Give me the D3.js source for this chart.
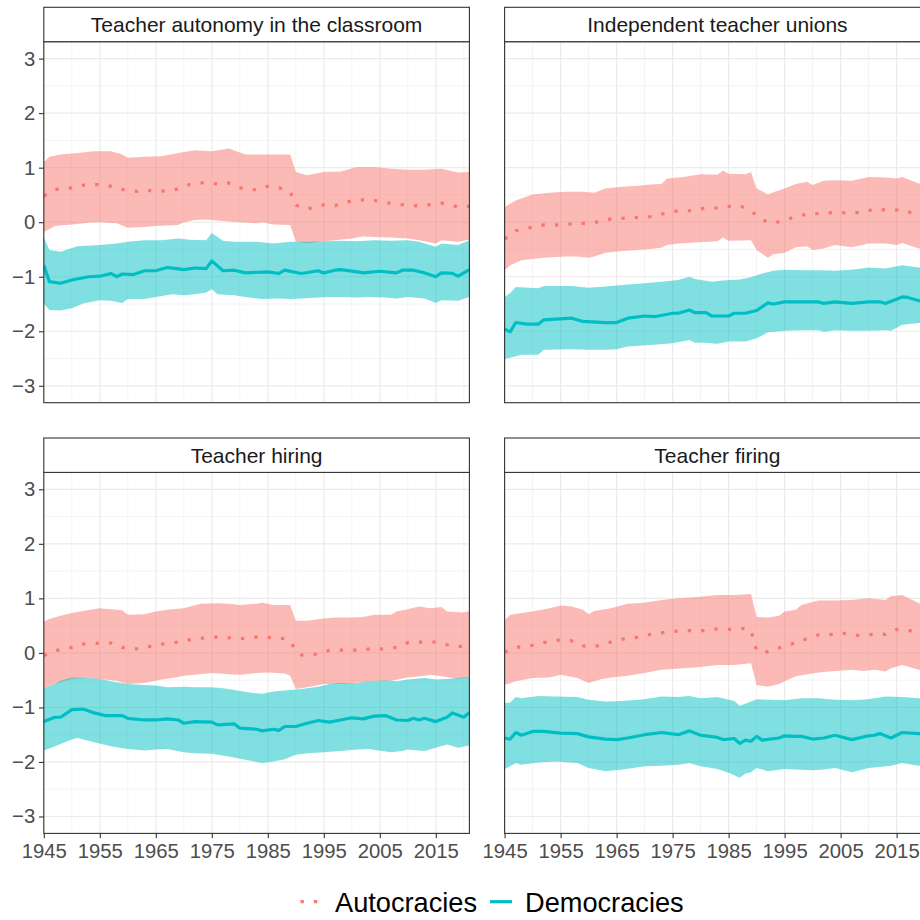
<!DOCTYPE html>
<html><head><meta charset="utf-8">
<script src="https://cdn.jsdelivr.net/npm/d3@7"></script>
<style>
body{margin:0;background:#fff}
svg{display:block}
text{font-family:"Liberation Sans",Arial,Helvetica,sans-serif}
</style>
</head><body>
<svg id="chart" width="920" height="920"></svg>
<script>
// ---------- DATA (year, value) ----------
const panelTitles = ["Teacher autonomy in the classroom","Independent teacher unions","Teacher hiring","Teacher firing"];
const seriesNames = ["Autocracies","Democracies"];
const seriesColors = ["#F8766D","#00BFC4"];
const xTicks = [1945,1955,1965,1975,1985,1995,2005,2015];
const xMinorTicks = [1950,1960,1970,1980,1990,2000,2010,2020];
const yTicks = [-3,-2,-1,0,1,2,3];
const yMinorTicks = [-2.5,-1.5,-0.5,0.5,1.5,2.5];

// Panel 1: Teacher autonomy in the classroom
const autonomyAutHi = [[1945,1.10],[1946,1.20],[1948,1.24],[1951,1.27],[1954,1.30],[1957,1.30],[1959,1.24],[1960,1.18],[1963,1.20],[1966,1.21],[1969,1.27],[1972,1.32],[1975,1.30],[1978,1.35],[1981,1.24],[1984,1.24],[1987,1.24],[1989,1.24],[1990,0.92],[1992,0.86],[1995,0.92],[1998,0.93],[2001,1.01],[2004,1.01],[2007,0.98],[2010,0.96],[2013,0.96],[2016,0.98],[2019,0.91],[2021,0.92]];
const autonomyAutMean = [[1945,0.48],[1947,0.60],[1950,0.63],[1952,0.68],[1955,0.69],[1957,0.66],[1959,0.60],[1962,0.56],[1964,0.58],[1967,0.57],[1969,0.61],[1971,0.69],[1974,0.73],[1976,0.70],[1978,0.72],[1980,0.63],[1983,0.59],[1985,0.66],[1987,0.63],[1989,0.56],[1990,0.31],[1992,0.24],[1995,0.32],[1997,0.30],[1999,0.37],[2002,0.41],[2004,0.40],[2006,0.36],[2009,0.32],[2011,0.30],[2014,0.32],[2016,0.35],[2019,0.28],[2021,0.29]];
const autonomyAutLo = [[1945,-0.18],[1947,-0.07],[1950,-0.04],[1953,-0.01],[1955,0.0],[1958,-0.02],[1960,-0.10],[1963,-0.09],[1965,-0.07],[1969,-0.05],[1970,0.0],[1972,0.04],[1974,0.05],[1977,0.02],[1980,0.0],[1983,-0.02],[1984,0.0],[1986,-0.04],[1989,-0.05],[1990,-0.36],[1992,-0.39],[1994,-0.36],[1997,-0.33],[2000,-0.30],[2002,-0.26],[2004,-0.27],[2007,-0.28],[2010,-0.30],[2012,-0.33],[2015,-0.39],[2016,-0.33],[2019,-0.36],[2021,-0.32]];
const autonomyDemHi = [[1945,-0.27],[1946,-0.51],[1948,-0.54],[1951,-0.44],[1955,-0.42],[1958,-0.39],[1960,-0.36],[1963,-0.33],[1966,-0.33],[1969,-0.30],[1971,-0.32],[1974,-0.33],[1975,-0.20],[1977,-0.34],[1979,-0.36],[1983,-0.36],[1986,-0.39],[1989,-0.36],[1992,-0.36],[1995,-0.35],[1998,-0.34],[2001,-0.35],[2004,-0.33],[2007,-0.34],[2010,-0.33],[2012,-0.36],[2015,-0.45],[2016,-0.39],[2019,-0.42],[2021,-0.33]];
const autonomyDemMean = [[1945,-0.79],[1946,-1.09],[1948,-1.12],[1950,-1.06],[1953,-1.00],[1955,-0.99],[1957,-0.94],[1958,-1.00],[1959,-0.95],[1961,-0.96],[1963,-0.89],[1965,-0.89],[1967,-0.83],[1970,-0.87],[1972,-0.84],[1974,-0.85],[1975,-0.71],[1977,-0.89],[1979,-0.88],[1981,-0.93],[1985,-0.91],[1987,-0.94],[1988,-0.88],[1991,-0.94],[1994,-0.89],[1995,-0.93],[1997,-0.88],[1998,-0.87],[2001,-0.91],[2002,-0.93],[2005,-0.90],[2008,-0.93],[2009,-0.88],[2011,-0.88],[2013,-0.93],[2015,-1.00],[2016,-0.93],[2018,-0.94],[2019,-0.99],[2021,-0.87]];
const autonomyDemLo = [[1945,-1.49],[1946,-1.61],[1948,-1.62],[1950,-1.58],[1952,-1.49],[1955,-1.43],[1957,-1.44],[1959,-1.48],[1960,-1.41],[1963,-1.41],[1965,-1.37],[1968,-1.32],[1970,-1.34],[1972,-1.32],[1974,-1.29],[1975,-1.23],[1976,-1.32],[1979,-1.34],[1981,-1.37],[1984,-1.41],[1987,-1.40],[1989,-1.41],[1991,-1.40],[1994,-1.38],[1996,-1.37],[1998,-1.37],[2001,-1.38],[2003,-1.37],[2006,-1.38],[2008,-1.40],[2010,-1.37],[2013,-1.40],[2015,-1.48],[2016,-1.43],[2019,-1.44],[2021,-1.37]];

// Panel 2: Independent teacher unions
const unionsAutHi = [[1945,0.28],[1947,0.40],[1950,0.51],[1953,0.54],[1956,0.56],[1959,0.56],[1961,0.54],[1963,0.62],[1966,0.65],[1969,0.67],[1971,0.69],[1973,0.70],[1974,0.80],[1977,0.83],[1980,0.88],[1983,0.87],[1984,0.95],[1985,0.89],[1988,0.88],[1989,0.92],[1990,0.62],[1992,0.51],[1993,0.55],[1995,0.62],[1997,0.70],[1999,0.74],[2000,0.68],[2002,0.76],[2004,0.77],[2007,0.76],[2010,0.83],[2013,0.82],[2015,0.80],[2016,0.83],[2019,0.71],[2021,0.68]];
const unionsAutMean = [[1945,-0.31],[1947,-0.16],[1950,-0.09],[1952,-0.05],[1955,-0.05],[1957,-0.03],[1959,-0.02],[1962,0.01],[1964,0.06],[1966,0.07],[1969,0.09],[1971,0.10],[1974,0.17],[1976,0.21],[1978,0.21],[1981,0.26],[1983,0.26],[1985,0.29],[1987,0.30],[1989,0.21],[1991,0.04],[1993,-0.02],[1995,0.04],[1997,0.10],[1999,0.15],[2002,0.16],[2004,0.18],[2006,0.17],[2009,0.18],[2011,0.24],[2014,0.22],[2016,0.23],[2018,0.16],[2021,0.14]];
const unionsAutLo = [[1945,-0.88],[1946,-0.79],[1948,-0.70],[1952,-0.65],[1956,-0.63],[1958,-0.63],[1960,-0.65],[1961,-0.63],[1963,-0.56],[1966,-0.53],[1970,-0.50],[1973,-0.47],[1974,-0.42],[1976,-0.39],[1979,-0.37],[1983,-0.35],[1984,-0.28],[1985,-0.34],[1989,-0.33],[1990,-0.51],[1992,-0.65],[1993,-0.59],[1995,-0.56],[1997,-0.46],[1999,-0.44],[2000,-0.51],[2002,-0.48],[2004,-0.42],[2007,-0.46],[2010,-0.39],[2013,-0.39],[2015,-0.42],[2016,-0.38],[2019,-0.48],[2021,-0.50]];
const unionsDemHi = [[1945,-1.37],[1946,-1.30],[1947,-1.19],[1951,-1.21],[1952,-1.17],[1957,-1.17],[1960,-1.20],[1963,-1.18],[1966,-1.15],[1970,-1.12],[1973,-1.09],[1976,-1.06],[1978,-1.00],[1979,-1.04],[1982,-1.09],[1984,-1.07],[1987,-1.05],[1989,-1.01],[1991,-0.94],[1993,-0.89],[1995,-0.87],[1998,-0.88],[2001,-0.88],[2004,-0.89],[2007,-0.87],[2010,-0.83],[2013,-0.85],[2016,-0.79],[2019,-0.83],[2021,-0.84]];
const unionsDemMean = [[1945,-1.96],[1946,-2.01],[1947,-1.84],[1949,-1.87],[1951,-1.87],[1952,-1.79],[1957,-1.76],[1959,-1.82],[1963,-1.84],[1965,-1.84],[1967,-1.76],[1970,-1.72],[1972,-1.73],[1975,-1.67],[1976,-1.67],[1978,-1.61],[1979,-1.66],[1981,-1.66],[1982,-1.72],[1985,-1.72],[1986,-1.67],[1988,-1.67],[1990,-1.62],[1992,-1.48],[1993,-1.50],[1995,-1.46],[1998,-1.46],[2001,-1.46],[2002,-1.49],[2004,-1.46],[2007,-1.49],[2010,-1.46],[2012,-1.46],[2013,-1.49],[2016,-1.37],[2017,-1.38],[2019,-1.44],[2021,-1.45]];
const unionsDemLo = [[1945,-2.51],[1947,-2.46],[1948,-2.43],[1951,-2.43],[1952,-2.34],[1957,-2.33],[1960,-2.34],[1963,-2.34],[1965,-2.33],[1967,-2.28],[1971,-2.25],[1975,-2.22],[1978,-2.16],[1979,-2.21],[1981,-2.21],[1983,-2.23],[1985,-2.19],[1988,-2.19],[1990,-2.13],[1992,-2.02],[1995,-1.99],[1998,-1.98],[2001,-1.98],[2002,-2.01],[2004,-1.98],[2007,-1.99],[2010,-1.99],[2013,-1.98],[2014,-1.99],[2016,-1.88],[2019,-1.85],[2021,-1.87]];

// Panel 3: Teacher hiring
const hiringAutHi = [[1945,0.57],[1946,0.62],[1948,0.68],[1950,0.73],[1952,0.77],[1955,0.82],[1957,0.80],[1959,0.78],[1960,0.70],[1963,0.71],[1965,0.76],[1967,0.79],[1970,0.82],[1973,0.90],[1976,0.91],[1978,0.90],[1980,0.88],[1983,0.90],[1984,0.92],[1986,0.88],[1989,0.88],[1990,0.59],[1992,0.59],[1995,0.63],[1997,0.65],[2000,0.65],[2002,0.66],[2004,0.70],[2007,0.70],[2008,0.76],[2010,0.80],[2012,0.85],[2014,0.82],[2016,0.84],[2017,0.76],[2020,0.74],[2021,0.77]];
const hiringAutMean = [[1945,-0.05],[1947,0.04],[1950,0.10],[1952,0.16],[1955,0.18],[1957,0.18],[1959,0.10],[1962,0.07],[1964,0.12],[1966,0.16],[1969,0.20],[1971,0.24],[1974,0.28],[1976,0.29],[1979,0.27],[1981,0.26],[1983,0.29],[1986,0.28],[1988,0.26],[1989,0.22],[1990,0.04],[1991,-0.04],[1994,-0.02],[1996,0.05],[1998,0.05],[2001,0.05],[2003,0.07],[2005,0.07],[2008,0.10],[2010,0.19],[2013,0.20],[2015,0.20],[2017,0.15],[2019,0.12],[2021,0.12]];
const hiringAutLo = [[1945,-0.65],[1947,-0.57],[1950,-0.48],[1953,-0.46],[1955,-0.48],[1958,-0.51],[1960,-0.57],[1963,-0.55],[1966,-0.49],[1969,-0.44],[1970,-0.42],[1972,-0.40],[1975,-0.37],[1978,-0.39],[1980,-0.40],[1983,-0.37],[1985,-0.36],[1988,-0.38],[1989,-0.42],[1990,-0.66],[1992,-0.63],[1995,-0.57],[1998,-0.57],[2002,-0.54],[2004,-0.51],[2007,-0.51],[2010,-0.45],[2013,-0.42],[2014,-0.40],[2016,-0.43],[2019,-0.48],[2021,-0.45]];
const hiringDemHi = [[1945,-0.65],[1947,-0.57],[1948,-0.51],[1950,-0.45],[1953,-0.46],[1955,-0.48],[1957,-0.52],[1960,-0.57],[1963,-0.59],[1965,-0.60],[1967,-0.63],[1970,-0.62],[1972,-0.63],[1975,-0.63],[1977,-0.65],[1979,-0.68],[1982,-0.73],[1984,-0.75],[1986,-0.71],[1989,-0.68],[1991,-0.66],[1994,-0.62],[1996,-0.57],[1998,-0.55],[2001,-0.55],[2003,-0.52],[2006,-0.50],[2008,-0.52],[2010,-0.49],[2013,-0.46],[2015,-0.49],[2017,-0.48],[2021,-0.44]];
const hiringDemMean = [[1945,-1.26],[1947,-1.18],[1948,-1.18],[1950,-1.04],[1952,-1.03],[1954,-1.10],[1956,-1.15],[1959,-1.15],[1960,-1.20],[1963,-1.23],[1965,-1.23],[1967,-1.21],[1969,-1.23],[1970,-1.29],[1972,-1.26],[1975,-1.27],[1976,-1.32],[1979,-1.30],[1980,-1.38],[1983,-1.40],[1984,-1.43],[1986,-1.40],[1987,-1.42],[1988,-1.35],[1990,-1.35],[1992,-1.29],[1994,-1.24],[1996,-1.27],[1998,-1.23],[2000,-1.19],[2002,-1.21],[2004,-1.16],[2006,-1.15],[2008,-1.23],[2010,-1.24],[2011,-1.20],[2012,-1.23],[2013,-1.20],[2015,-1.26],[2017,-1.18],[2018,-1.10],[2020,-1.18],[2021,-1.09]];
const hiringDemLo = [[1945,-1.79],[1947,-1.71],[1950,-1.59],[1951,-1.56],[1954,-1.64],[1957,-1.71],[1960,-1.76],[1963,-1.79],[1965,-1.77],[1967,-1.76],[1970,-1.82],[1972,-1.84],[1975,-1.85],[1978,-1.90],[1981,-1.96],[1984,-2.02],[1986,-1.99],[1988,-1.95],[1990,-1.87],[1992,-1.84],[1995,-1.82],[1998,-1.80],[2001,-1.77],[2003,-1.76],[2007,-1.82],[2009,-1.80],[2010,-1.77],[2013,-1.80],[2015,-1.74],[2017,-1.68],[2019,-1.74],[2021,-1.70]];

// Panel 4: Teacher firing
const firingAutHi = [[1945,0.60],[1946,0.70],[1948,0.73],[1950,0.76],[1953,0.82],[1955,0.87],[1957,0.85],[1959,0.79],[1960,0.71],[1961,0.77],[1964,0.82],[1967,0.90],[1970,0.92],[1973,0.97],[1976,1.00],[1979,1.02],[1983,1.06],[1986,1.06],[1989,1.08],[1990,0.66],[1992,0.65],[1994,0.68],[1995,0.76],[1997,0.79],[1998,0.88],[2001,0.96],[2004,0.96],[2007,0.97],[2010,1.00],[2013,0.97],[2014,1.04],[2016,1.06],[2019,0.91],[2021,0.88]];
const firingAutMean = [[1945,0.01],[1947,0.10],[1950,0.14],[1952,0.19],[1955,0.24],[1957,0.22],[1959,0.13],[1962,0.13],[1964,0.20],[1966,0.25],[1969,0.29],[1971,0.34],[1974,0.38],[1976,0.40],[1978,0.41],[1981,0.41],[1983,0.44],[1986,0.43],[1988,0.45],[1989,0.42],[1990,0.04],[1992,0.02],[1994,0.09],[1997,0.19],[1999,0.26],[2001,0.33],[2004,0.34],[2006,0.36],[2008,0.32],[2011,0.34],[2013,0.34],[2015,0.43],[2018,0.40],[2021,0.38]];
const firingAutLo = [[1945,-0.59],[1947,-0.52],[1950,-0.46],[1953,-0.45],[1955,-0.40],[1958,-0.46],[1960,-0.55],[1962,-0.49],[1964,-0.45],[1967,-0.42],[1970,-0.37],[1973,-0.31],[1977,-0.28],[1980,-0.26],[1983,-0.22],[1986,-0.22],[1989,-0.19],[1990,-0.59],[1992,-0.62],[1994,-0.57],[1995,-0.52],[1997,-0.43],[2001,-0.36],[2003,-0.34],[2007,-0.31],[2009,-0.33],[2011,-0.31],[2013,-0.34],[2014,-0.28],[2016,-0.22],[2019,-0.31],[2021,-0.33]];
const firingDemHi = [[1945,-0.92],[1946,-0.91],[1947,-0.81],[1948,-0.83],[1951,-0.79],[1954,-0.80],[1958,-0.81],[1960,-0.86],[1963,-0.89],[1966,-0.88],[1970,-0.85],[1973,-0.80],[1976,-0.81],[1978,-0.79],[1980,-0.83],[1983,-0.81],[1986,-0.88],[1987,-0.97],[1989,-0.89],[1990,-0.85],[1992,-0.86],[1995,-0.87],[1998,-0.83],[2001,-0.83],[2004,-0.86],[2007,-0.87],[2010,-0.85],[2013,-0.80],[2016,-0.81],[2019,-0.83],[2021,-0.84]];
const firingDemMean = [[1945,-1.56],[1946,-1.58],[1947,-1.46],[1948,-1.51],[1950,-1.44],[1952,-1.44],[1955,-1.47],[1958,-1.48],[1960,-1.54],[1963,-1.58],[1965,-1.59],[1967,-1.56],[1970,-1.50],[1973,-1.46],[1976,-1.50],[1978,-1.43],[1980,-1.51],[1983,-1.55],[1984,-1.59],[1986,-1.57],[1987,-1.66],[1988,-1.60],[1989,-1.62],[1990,-1.53],[1991,-1.60],[1994,-1.56],[1995,-1.52],[1997,-1.53],[1998,-1.53],[2000,-1.58],[2002,-1.56],[2004,-1.51],[2007,-1.59],[2010,-1.52],[2011,-1.51],[2012,-1.48],[2014,-1.56],[2016,-1.46],[2019,-1.48],[2021,-1.49]];
const firingDemLo = [[1945,-2.13],[1946,-2.08],[1947,-2.02],[1948,-2.05],[1951,-2.01],[1954,-1.99],[1958,-2.02],[1960,-2.11],[1963,-2.17],[1966,-2.14],[1970,-2.08],[1973,-2.07],[1976,-2.05],[1978,-2.02],[1980,-2.08],[1983,-2.13],[1985,-2.20],[1987,-2.29],[1988,-2.21],[1989,-2.19],[1990,-2.11],[1992,-2.17],[1995,-2.13],[1997,-2.14],[2000,-2.15],[2002,-2.14],[2004,-2.11],[2007,-2.19],[2010,-2.11],[2014,-2.07],[2016,-2.02],[2019,-2.07],[2021,-2.07]];

// Assemble panels: [autocracies {lo,mean,hi}, democracies {lo,mean,hi}]
const panels = [
  [{lo:autonomyAutLo,mean:autonomyAutMean,hi:autonomyAutHi},{lo:autonomyDemLo,mean:autonomyDemMean,hi:autonomyDemHi}],
  [{lo:unionsAutLo,mean:unionsAutMean,hi:unionsAutHi},{lo:unionsDemLo,mean:unionsDemMean,hi:unionsDemHi}],
  [{lo:hiringAutLo,mean:hiringAutMean,hi:hiringAutHi},{lo:hiringDemLo,mean:hiringDemMean,hi:hiringDemHi}],
  [{lo:firingAutLo,mean:firingAutMean,hi:firingAutHi},{lo:firingDemLo,mean:firingDemMean,hi:firingDemHi}]
];

// ---------- LAYOUT ----------
const svg = d3.select("#chart");
const colX = [43.8, 504.6];
const panelW = 425.6;
const stripTops = [7.3, 438];
const stripH = 34.4;
const panelH = 361;
const gridCol = "#EBEBEB";
const borderCol = "#333333";
const dotDash = "3.3,10.1";
const yFmt = d3.format("d");

panels.forEach((series, i) => {
  const col = i % 2, row = Math.floor(i / 2);
  const x0 = colX[col];
  const top = stripTops[row] + stripH;
  const bottom = top + panelH;
  const x = d3.scaleLinear().domain([1945, 2021]).range([x0, x0 + panelW]);
  const y = d3.scaleLinear().domain([-3.31, 3.31]).range([bottom, top]);
  const g = svg.append("g");

  // background
  g.append("rect").attr("x", x0).attr("y", top).attr("width", panelW).attr("height", panelH).attr("fill", "#fff");

  // grid
  g.selectAll(".ymin").data(yMinorTicks).join("line")
    .attr("x1", x0).attr("x2", x0 + panelW).attr("y1", d => y(d)).attr("y2", d => y(d))
    .attr("stroke", gridCol).attr("stroke-width", 0.6);
  g.selectAll(".xmin").data(xMinorTicks).join("line")
    .attr("y1", top).attr("y2", bottom).attr("x1", d => x(d)).attr("x2", d => x(d))
    .attr("stroke", gridCol).attr("stroke-width", 0.6);
  g.selectAll(".ymaj").data(yTicks).join("line")
    .attr("x1", x0).attr("x2", x0 + panelW).attr("y1", d => y(d)).attr("y2", d => y(d))
    .attr("stroke", gridCol).attr("stroke-width", 1.2);
  g.selectAll(".xmaj").data(xTicks).join("line")
    .attr("y1", top).attr("y2", bottom).attr("x1", d => x(d)).attr("x2", d => x(d))
    .attr("stroke", gridCol).attr("stroke-width", 1.2);

  // clip
  const cid = "clip" + i;
  svg.append("clipPath").attr("id", cid).append("rect")
    .attr("x", x0).attr("y", top).attr("width", panelW).attr("height", panelH);
  const dg = g.append("g").attr("clip-path", `url(#${cid})`);

  const lineGen = d3.line().x(d => x(d[0])).y(d => y(d[1]));

  // ribbons
  series.forEach((s, k) => {
    const path = lineGen(s.hi) + lineGen(s.lo.slice().reverse()).replace(/^M/, "L") + "Z";
    dg.append("path").attr("d", path).attr("fill", seriesColors[k]).attr("fill-opacity", 0.5).attr("stroke", "none");
  });
  // lines
  series.forEach((s, k) => {
    const p = dg.append("path").attr("d", lineGen(s.mean)).attr("fill", "none")
      .attr("stroke", seriesColors[k]).attr("stroke-width", 3.2)
      .attr("stroke-linejoin", "round");
    if (k === 0) p.attr("stroke-dasharray", dotDash).attr("stroke-linecap", "butt");
  });

  // border
  g.append("rect").attr("x", x0).attr("y", top).attr("width", panelW).attr("height", panelH)
    .attr("fill", "none").attr("stroke", borderCol).attr("stroke-width", 1.1);

  // strip
  g.append("rect").attr("x", x0).attr("y", stripTops[row]).attr("width", panelW).attr("height", stripH)
    .attr("fill", "#fff").attr("stroke", borderCol).attr("stroke-width", 1.1);
  g.append("text").attr("x", x0 + panelW / 2).attr("y", stripTops[row] + 25)
    .attr("text-anchor", "middle").attr("font-size", 21).attr("fill", "#1A1A1A")
    .text(panelTitles[i]);

  // axes
  if (col === 0) {
    const ax = g.append("g").attr("transform", `translate(${x0},0)`)
      .call(d3.axisLeft(y).tickValues(yTicks).tickFormat(yFmt).tickSize(4.8).tickPadding(3.8));
    ax.select(".domain").remove();
    ax.selectAll(".tick line").attr("stroke", borderCol).attr("stroke-width", 1.1);
    ax.selectAll(".tick text").attr("fill", "#4D4D4D").attr("font-size", 20.3)
      .attr("font-family", '"Liberation Sans",Arial,sans-serif');
  }
  if (row === 1) {
    const ax = g.append("g").attr("transform", `translate(0,${bottom})`)
      .call(d3.axisBottom(x).tickValues(xTicks).tickFormat(d3.format("d")).tickSize(4.8).tickPadding(5.5));
    ax.select(".domain").remove();
    ax.selectAll(".tick line").attr("stroke", borderCol).attr("stroke-width", 1.1);
    ax.selectAll(".tick text").attr("fill", "#4D4D4D").attr("font-size", 20.3)
      .attr("font-family", '"Liberation Sans",Arial,sans-serif');
  }
});

// ---------- LEGEND ----------
const legendY = 901.7;
const legendItems = [
  {key0: 300.5, key1: 319.5, textX: 335},
  {key0: 490, key1: 512, textX: 525}
];
const lg = svg.append("g");
legendItems.forEach((it, k) => {
  const l = lg.append("line").attr("x1", it.key0).attr("x2", it.key1).attr("y1", legendY).attr("y2", legendY)
    .attr("stroke", seriesColors[k]).attr("stroke-width", 3.2);
  if (k === 0) l.attr("stroke-dasharray", dotDash);
  lg.append("text").attr("x", it.textX).attr("y", 911.6).attr("font-size", 27.2).attr("fill", "#000")
    .text(seriesNames[k]);
});
</script>
</body></html>
